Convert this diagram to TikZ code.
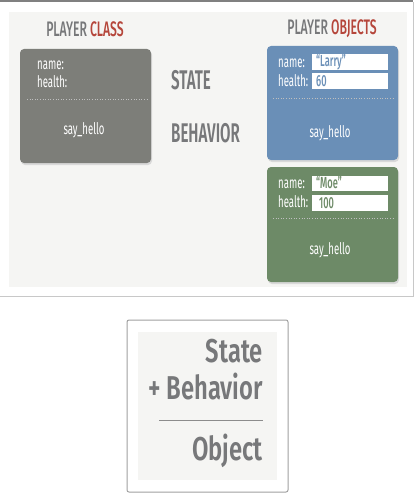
\documentclass[tikz,border=0pt]{standalone}
\usepackage{fontspec}
\setmainfont{Fira Sans}
\newfontfamily\cond[FakeStretch=0.6]{Fira Sans}
\newfontfamily\condb[FakeStretch=0.58]{Fira Sans Medium}
\newfontfamily\condsb[FakeStretch=0.56]{Fira Sans SemiBold}
\newfontfamily\condw[FakeStretch=0.72]{Fira Sans SemiBold}
\definecolor{panelbg}{HTML}{F5F5F3}
\definecolor{classgray}{HTML}{7D7E79}
\definecolor{objblue}{HTML}{6A8FB7}
\definecolor{objgreen}{HTML}{6D8A67}
\definecolor{headgray}{HTML}{77787A}
\definecolor{headred}{HTML}{B5463B}
\definecolor{framegray}{HTML}{C8C8C8}
\tikzset{
  box/.style={rounded corners=4pt, draw=none},
  shadowbox/.style={rounded corners=4pt, fill=black!15},
  fieldlbl/.style={anchor=west, inner sep=0pt, text=white, font=\cond\fontsize{16}{16}\selectfont},
  field/.style={fill=white, draw=none},
  fieldval/.style={anchor=west, inner sep=0pt, font=\condb\fontsize{16}{16}\selectfont},
  method/.style={inner sep=0pt, text=white, font=\cond\fontsize{16}{16}\selectfont},
  sep/.style={white!75!black, dotted, line width=0.6pt},
  head/.style={inner sep=0pt, font=\condb\fontsize{21}{21}\selectfont, text=headgray},
  big/.style={inner sep=0pt, font=\condsb\fontsize{27}{27}\selectfont, text=headgray},
  huge/.style={inner sep=0pt, anchor=east, font=\condw\fontsize{33}{33}\selectfont, text=headgray},
}
\begin{document}
\begin{tikzpicture}[x=1pt,y=-1pt]
\useasboundingbox (0,0) rectangle (415,500);
% top frame
\draw[framegray, line width=1pt] (0,296) -- (413,296) -- (413,2);
\fill[black!50] (0,0) rectangle (413,2.5);
\fill[panelbg] (9,12) rectangle (407,287);
% headings
\node[head] (hclass) at (85,29) {PLAYER \textcolor{headred}{CLASS}};
\node[head] (hobj) at (332,29) {PLAYER \textcolor{headred}{OBJECTS}};
\node[big, anchor=west] (state) at (171,80) {STATE};
\node[big, anchor=west] (behav) at (171,133) {BEHAVIOR};
% class box
\fill[shadowbox] (21,51) rectangle (152,165);
\fill[box, classgray] (20,49) rectangle (151,163);
\node[fieldlbl] (cname) at (37,65) {name:};
\node[fieldlbl] (chealth) at (37,82) {health:};
\draw[sep] (27,99) -- (148,99);
\node[method] (chello) at (84,130) {say\_hello};
% blue object
\fill[shadowbox] (268,48) rectangle (399,162);
\fill[box, objblue] (267,46) rectangle (398,160);
\node[fieldlbl] (bname) at (278,63) {name:};
\node[fieldlbl] (bhealth) at (278,81) {health:};
\fill[field] (312,54) rectangle (388,70);
\fill[field] (312,73) rectangle (388,89);
\node[fieldval, text=objblue] (bnv) at (316,62) {“Larry”};
\node[fieldval, text=objblue] (bhv) at (316,81) {60};
\draw[sep] (273,98) -- (394,98);
\node[method] (bhello) at (330,133) {say\_hello};
% green object
\fill[shadowbox] (268,169) rectangle (399,284);
\fill[box, objgreen] (267,167) rectangle (398,282);
\node[fieldlbl] (gname) at (278,184) {name:};
\node[fieldlbl] (ghealth) at (278,202) {health:};
\fill[field] (312,176) rectangle (388,191);
\fill[field] (312,195) rectangle (388,211);
\node[fieldval, text=objgreen] (gnv) at (316,183) {“Moe”};
\node[fieldval, text=objgreen] (ghv) at (319,203) {100};
\draw[sep] (273,218) -- (394,218);
\node[method] (ghello) at (330,250) {say\_hello};
% bottom panel
\draw[framegray!80!black, line width=1pt, rounded corners=2pt] (127,320) rectangle (288,492);
\fill[panelbg] (138,332) rectangle (277,480);
\node[huge] (bstate) at (263,351) {State};
\node[huge] (bbeh) at (263,387) {+\,Behavior};
\draw[black!45, line width=0.6pt] (159,420) -- (263,420);
\node[huge] (bobj) at (263,451) {Object};
\end{tikzpicture}
\end{document}
